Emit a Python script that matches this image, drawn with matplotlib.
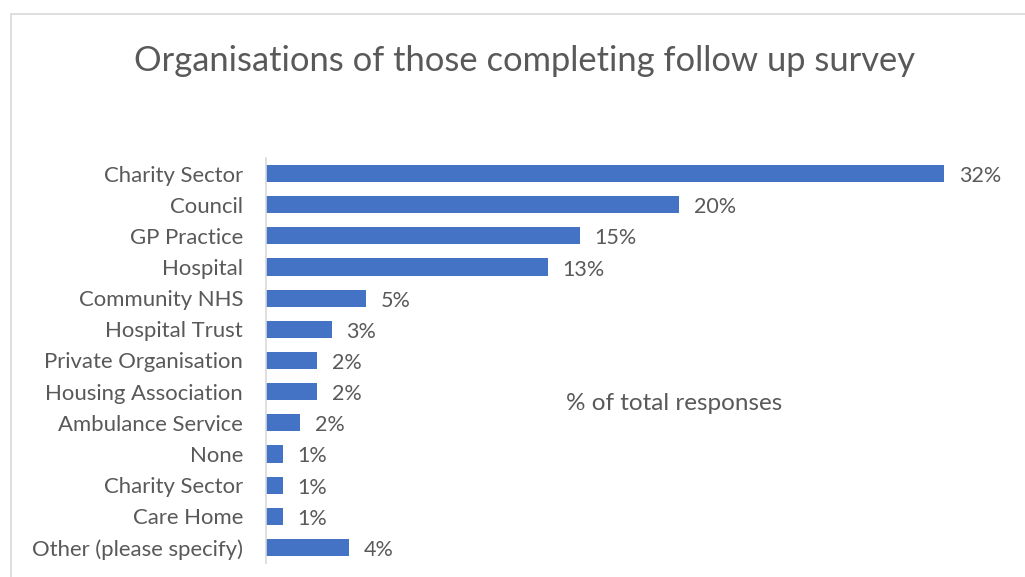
import matplotlib
matplotlib.use("Agg")
import matplotlib.pyplot as plt
from matplotlib.patches import Rectangle

categories = ["Charity Sector", "Council", "GP Practice", "Hospital", "Community NHS",
              "Hospital Trust", "Private Organisation", "Housing Association",
              "Ambulance Service", "None", "Charity Sector", "Care Home",
              "Other (please specify)"]
values = [32.0, 19.5, 14.8, 13.3, 4.7, 3.1, 2.4, 2.4, 1.6, 0.8, 0.8, 0.8, 3.9]
value_labels = ["32%", "20%", "15%", "13%", "5%", "3%", "2%", "2%", "2%",
                "1%", "1%", "1%", "4%"]

plt.rcParams['font.family'] = ['Lato', 'DejaVu Sans']
text_color = '#595959'
bar_color = '#4472C4'

W, H = 1025, 577
fig = plt.figure(figsize=(W / 100, H / 100), dpi=100)

# chart frame
fig.patches.append(Rectangle((11 / W, -0.1), 1.2, 1 - 14 / H + 0.1, transform=fig.transFigure,
                             fill=False, edgecolor='#d9d9d9', linewidth=1.2))

ax = fig.add_axes([266 / W, 1 - 563 / H, (944 - 266) / W, (563 - 158) / H])
y = list(range(len(categories)))
ax.barh(y, values, height=0.55, color=bar_color)
ax.set_xlim(0, 32)
ax.set_ylim(len(categories) - 0.5, -0.5)

for yi, v, lab in zip(y, values, value_labels):
    ax.text(v + 0.7, yi + 0.08, lab, va='center', ha='left', fontsize=15.5,
            color=text_color, clip_on=False)

ax.set_yticks(y)
ax.set_yticklabels(categories, fontsize=15.9, color=text_color)
ax.tick_params(axis='y', length=0, pad=16.5)
ax.set_xticks([])
for s in ['top', 'right', 'bottom']:
    ax.spines[s].set_visible(False)
ax.spines['left'].set_color('#d9d9d9')
ax.spines['left'].set_linewidth(1.2)

fig.text(525 / W, 1 - 61 / H, "Organisations of those completing follow up survey",
         ha='center', va='center', fontsize=24.8, color=text_color)
fig.text(674 / W, 1 - 404 / H, "% of total responses", ha='center', va='center',
         fontsize=17.5, color=text_color)

fig.savefig("out.png", dpi=100)
